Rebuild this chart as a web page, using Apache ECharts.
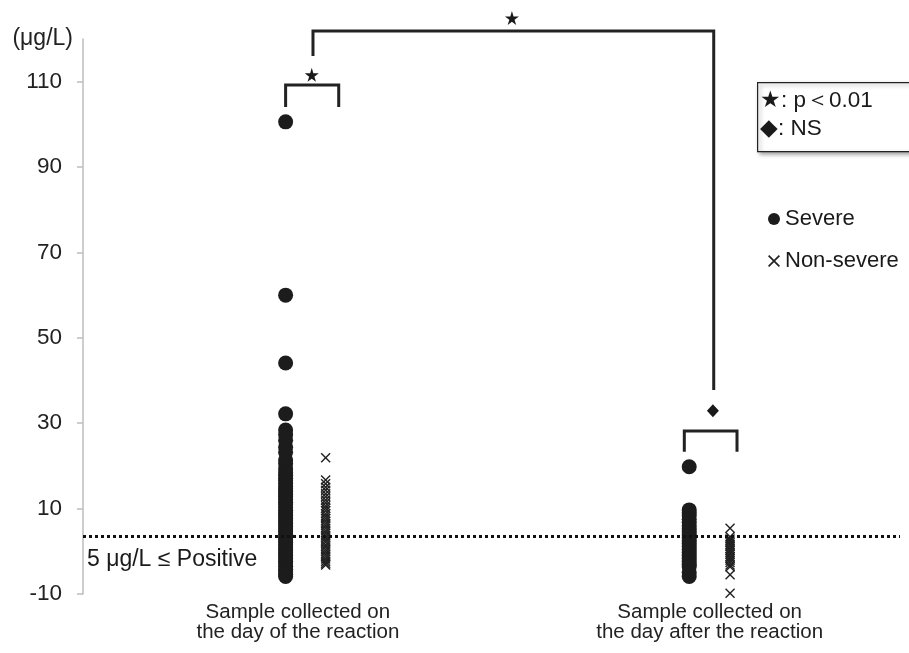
<!DOCTYPE html>
<html>
<head>
<meta charset="utf-8">
<script src="https://cdn.jsdelivr.net/npm/echarts@6/dist/echarts.min.js"></script>
<style>html,body{margin:0;padding:0;background:#fff}#c{width:909px;height:653px}</style>
</head>
<body>
<div id="c"></div>
<script>
// ---- data ----
var categories = ['Sample collected on\nthe day of the reaction', 'Sample collected on\nthe day after the reaction'];
var yTicks = [-10, 10, 30, 50, 70, 90, 110];
var severeDay = [100.6, 60, 44.1, 32.2, 28.4, 27.3, 26.0, 24.4, 23.2, 21.4, 20.5, 19.3, 18.4, 17.8, 17.1, 16.5, 15.9, 15.2, 14.6, 14.0, 13.3, 12.8, 12.1, 11.5, 10.9, 10.2, 9.6, 9.0, 8.4, 7.7, 7.1, 6.5, 5.8, 5.2, 4.6, 4.0, 3.3, 2.7, 2.1, 1.5, 0.8, 0.2, -0.4, -1.0, -1.7, -2.3, -2.9, -3.5, -4.2, -4.8, -5.4, -5.9];
var nonSevereDay = [21.9, 16.7, 15.8, 15.0, 14.3, 13.5, 12.8, 12.0, 11.4, 10.7, 10.1, 9.5, 8.8, 8.2, 7.7, 7.1, 6.5, 6.0, 5.4, 4.8, 4.3, 3.7, 3.2, 2.6, 2.1, 1.5, 1.0, 0.4, -0.1, -0.7, -1.2, -1.8, -2.3, -2.8, -3.2];
var severeAfter = [19.8, 9.7, 9.0, 8.3, 7.5, 6.8, 6.0, 5.3, 4.6, 3.9, 3.2, 2.5, 1.8, 1.1, 0.4, -0.3, -1.0, -1.7, -2.4, -3.1, -3.6, -4.9, -5.9];
var nonSevereAfter = [5.4, 3.4, 2.9, 2.4, 2.0, 1.5, 1.1, 0.6, 0.2, -0.3, -0.7, -1.2, -1.6, -2.1, -2.6, -3.2, -3.6, -5.5, -9.8];
var positiveCutoff = 3.5; // drawn position of the "5 μg/L ≤ Positive" line
// group positions on the hidden x scale
var groupX = {severeDay: 24.8, nonSevereDay: 29.7, severeAfter: 74.2, nonSevereAfter: 79.2};
var categoryX = [26.3, 76.7];

// significance brackets (in data units)
var brackets = [
  [[24.8, 104.1], [24.8, 109.2], [31.3, 109.2], [31.3, 104.1]],
  [[28.15, 116.0], [28.15, 121.9], [77.2, 121.9], [77.2, 37.8]],
  [[73.6, 23.3], [73.6, 28.2], [80.05, 28.2], [80.05, 23.3]]
];
var stars = [[28.0, 111.6], [52.5, 124.9]];
var diamonds = [[77.1, 32.9]];

var FONT = '"Liberation Sans", Arial, sans-serif';
var crossPath = 'path://M0,1 L1,0 L5,4 L9,0 L10,1 L6,5 L10,9 L9,10 L5,6 L1,10 L0,9 L4,5 Z';
var starPath = 'path://M50,0 L61,35 L98,35 L68,57 L79,91 L50,70 L21,91 L32,57 L2,35 L39,35 Z';

function pts(x, arr) { return arr.map(function (v) { return [x, v]; }); }

var chart = echarts.init(document.getElementById('c'), null, {renderer: 'canvas'});
chart.setOption({
  animation: false,
  backgroundColor: '#fff',
  textStyle: {fontFamily: FONT},
  grid: {left: 83, right: 9, top: 39, bottom: 59, containLabel: false},
  legend: {
    left: 763, top: 203, orient: 'vertical', itemGap: 20,
    itemWidth: 12, itemHeight: 12,
    textStyle: {fontSize: 22, color: '#1a1a1a', fontFamily: FONT},
    data: [{name: 'Severe', icon: 'circle'}, {name: 'Non-severe', icon: crossPath}]
  },
  xAxis: {
    type: 'value', min: 0, max: 100,
    axisLine: {show: false}, axisTick: {show: false}, splitLine: {show: false},
    axisLabel: {
      customValues: categoryX,
      formatter: function (v) { return v === categoryX[0] ? categories[0] : categories[1]; },
      fontSize: 20.5, lineHeight: 20, color: '#222', margin: 8, fontFamily: FONT
    }
  },
  yAxis: {
    type: 'value', min: -10, max: 120, interval: 20,
    name: '(μg/L)', nameLocation: 'end', nameGap: 0,
    nameTextStyle: {fontSize: 23, color: '#222', align: 'right', verticalAlign: 'middle', padding: [0, 10, 0, 0], fontFamily: FONT},
    axisLine: {show: true, lineStyle: {color: '#bdbdbd', width: 1.5}},
    axisTick: {show: true, customValues: yTicks, length: 6, lineStyle: {color: '#bdbdbd', width: 1.5}},
    axisLabel: {customValues: yTicks, fontSize: 22.5, color: '#222', margin: 21, fontFamily: FONT},
    splitLine: {show: false}
  },
  graphic: [
    {type: 'rect', left: 757, top: 82, z: 10,
     shape: {width: 170, height: 69},
     style: {fill: '#fff', stroke: '#222', lineWidth: 1.2, shadowBlur: 4, shadowOffsetX: 2, shadowOffsetY: 2, shadowColor: 'rgba(0,0,0,0.35)'}},
    {type: 'text', left: 760, top: 89, z: 11,
     style: {text: '★: p＜0.01', fontSize: 22.5, fill: '#1a1a1a', fontFamily: FONT}},
    {type: 'text', left: 760, top: 117, z: 11,
     style: {text: '◆: NS', fontSize: 22.5, fill: '#1a1a1a', fontFamily: FONT}}
  ],
  series: [
    {
      name: 'Severe', type: 'scatter', symbol: 'circle', symbolSize: 15,
      itemStyle: {color: '#1c1c1c', opacity: 1},
      data: pts(groupX.severeDay, severeDay).concat(pts(groupX.severeAfter, severeAfter)),
      markLine: {
        silent: true, symbol: 'none',
        lineStyle: {type: [3, 3], color: '#111', width: 3},
        label: {show: true, position: 'insideStartBottom', formatter: '5 μg/L ≤ Positive',
                fontSize: 23, color: '#1a1a1a', distance: [4, 12], fontFamily: FONT},
        data: [{yAxis: positiveCutoff}]
      },
      z: 3
    },
    {
      name: 'Non-severe', type: 'scatter', symbol: crossPath, symbolSize: 10,
      itemStyle: {color: '#222', opacity: 1},
      data: pts(groupX.nonSevereDay, nonSevereDay).concat(pts(groupX.nonSevereAfter, nonSevereAfter)),
      z: 3
    },
    {
      name: 'brackets', type: 'lines', coordinateSystem: 'cartesian2d', polyline: true, clip: false,
      lineStyle: {color: '#222', width: 3, opacity: 1},
      data: brackets.map(function (b) { return {coords: b}; }),
      silent: true, z: 4
    },
    {
      name: 'stars', type: 'scatter', symbol: starPath, symbolSize: 14, clip: false,
      itemStyle: {color: '#1a1a1a', opacity: 1}, data: stars, silent: true, z: 5
    },
    {
      name: 'diamonds', type: 'scatter', symbol: 'diamond', symbolSize: [12, 13], clip: false,
      itemStyle: {color: '#1a1a1a', opacity: 1}, data: diamonds, silent: true, z: 5
    }
  ]
});
</script>
</body>
</html>
